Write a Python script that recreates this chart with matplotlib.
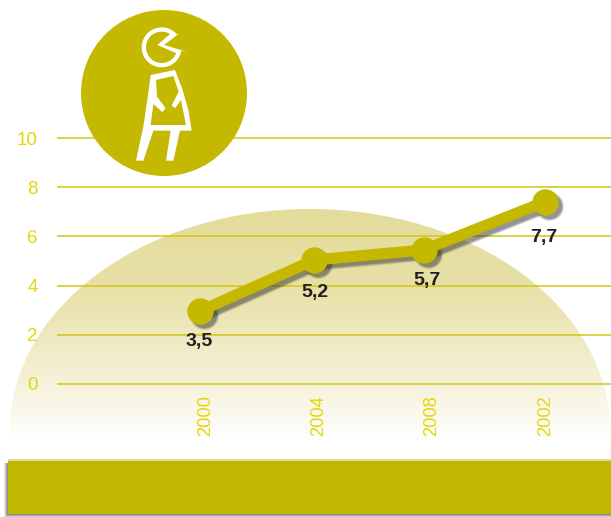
import numpy as np
import matplotlib
matplotlib.use("Agg")
import matplotlib.pyplot as plt
from matplotlib.colors import LinearSegmentedColormap
from matplotlib.patches import Circle, Ellipse, Polygon, Rectangle
from matplotlib.transforms import ScaledTranslation

plt.rcParams['font.family'] = ['Liberation Sans', 'DejaVu Sans']

W, H = 611, 517
OLIVE = "#c4b900"
GRID = "#d2c613"
TICK = "#e4d60a"

# chart data
years = ["2000", "2004", "2008", "2002"]
x_pos = [-0.02, 0.98, 1.94, 3.0]
values = [2.97, 5.04, 5.45, 7.4]
value_labels = ["3,5", "5,2", "5,7", "7,7"]
label_gap = [31, 32, 31, 36]
label_dx = [-1, 1, 3, -1]
y_ticks = [0, 2, 4, 6, 8, 10]

fig = plt.figure(figsize=(W / 100, H / 100), dpi=100, facecolor="white")


def pixel_axes(z):
    a = fig.add_axes([0, 0, 1, 1], zorder=z)
    a.set_xlim(0, W)
    a.set_ylim(H, 0)
    a.axis("off")
    a.patch.set_alpha(0)
    return a


# dome behind the grid
bg = pixel_axes(0)
dome_cmap = LinearSegmentedColormap.from_list(
    "dome", [(0, "#e4dc9a"), (0.35, "#e8e1a8"), (0.7, "#f3efd2"), (1, "#ffffff")])
grad = np.linspace(0, 1, 256).reshape(-1, 1)
im = bg.imshow(grad, cmap=dome_cmap, extent=(0, W, 440, 209), aspect="auto", zorder=1)
bg.set_xlim(0, W)
bg.set_ylim(H, 0)
dome = Ellipse((310, 430), 600, 442, transform=bg.transData, fc="none", ec="none")
bg.add_patch(dome)
im.set_clip_path(dome)

# main axes, y px 388.9..133.1 and x px 57..611
ax = fig.add_axes([57 / W, (H - 388.9) / H, (W - 57) / W, (388.9 - 133.1) / H], zorder=1)
ax.patch.set_alpha(0)
ax.set_xlim(-1.276, 3.583)
ax.set_ylim(-0.2, 10.2)
for s in ax.spines.values():
    s.set_visible(False)
ax.set_yticks(y_ticks)
ax.set_xticks(range(len(years)))
ax.set_xticklabels(years, rotation=90, va="top", ha="center")
ax.tick_params(axis="x", length=0, pad=4.4, labelsize=13.2, labelcolor=TICK)
ax.tick_params(axis="y", length=0, pad=14, labelsize=13.5, labelcolor=TICK)
ax.grid(axis="y", color=GRID, linewidth=1.1)
ax.set_axisbelow(True)
for lbl, dx in zip(ax.get_xticklabels(), [3, 2, 1, 1]):
    lbl.set_transform(lbl.get_transform() + ScaledTranslation(dx / 100, 0, fig.dpi_scale_trans))

# soft drop shadow: same line drawn a few times, shifted down right
for lw, ms, a in [(10, 21, 0.1), (9, 20, 0.14), (8, 19, 0.18), (7, 18, 0.22)]:
    shift = ax.transData + ScaledTranslation(4 / 100, -4 / 100, fig.dpi_scale_trans)
    ax.plot(x_pos, values, color="#303030", alpha=a, linewidth=lw, marker="o", markersize=ms,
            markeredgewidth=0, transform=shift, zorder=2)
ax.plot(x_pos, values, color=OLIVE, linewidth=8, marker="o", markersize=19,
        markeredgewidth=0, solid_capstyle="round", solid_joinstyle="round", zorder=3)

for x, v, lab, gap, dx in zip(x_pos, values, value_labels, label_gap, label_dx):
    ax.annotate(lab, (x, v), xytext=(dx, -gap), textcoords="offset pixels",
                ha="center", va="center", fontsize=14, fontweight="bold",
                color="#231f20", zorder=4)

# badge and footer bar on top
top = pixel_axes(2)
top.add_patch(Circle((164, 93), 83, fc=OLIVE, ec="none"))


def icon(pts):
    return [(60 + px / 3, py / 3) for px, py in pts]


# head is a white shape with an olive shape inside it
ang = np.radians(np.linspace(40, 350, 60))
head = [(305 + 60 * np.cos(t), 142 - 60 * np.sin(t)) for t in ang]
head += [(380, 155), (312, 135), (358, 100)]
top.add_patch(Polygon(icon(head), closed=True, fc="white", ec="none"))
ang = np.radians(np.linspace(58, 338, 60))
inner = [(305 + 47 * np.cos(t), 142 - 47 * np.sin(t)) for t in ang]
inner += [(292, 135)]
top.add_patch(Polygon(icon(inner), closed=True, fc=OLIVE, ec="none"))

body = [(272, 225), (345, 210), (368, 270), (385, 330), (395, 392), (360, 392),
        (340, 482), (318, 482), (332, 392), (280, 392), (250, 482), (228, 482),
        (250, 380), (262, 300)]
top.add_patch(Polygon(icon(body), closed=True, fc="white", ec="none"))
hole = [(288, 240), (340, 228), (356, 275), (335, 316), (345, 325), (363, 300),
        (378, 375), (272, 375), (280, 312), (307, 336), (317, 325), (291, 290)]
top.add_patch(Polygon(icon(hole), closed=True, fc=OLIVE, ec="none"))

for i, a in zip(range(4, 0, -1), (0.1, 0.15, 0.2, 0.25)):
    top.add_patch(Rectangle((8 - i, 463), W, 51 + i, fc="#303030", ec="none", alpha=a))
top.add_patch(Rectangle((8, 459), W, 2, fc="#e4dc9a", ec="none"))
top.add_patch(Rectangle((8, 460.5), W, 53, fc="#c1b700", ec="none"))

fig.savefig("out.png", dpi=100, facecolor="white")
